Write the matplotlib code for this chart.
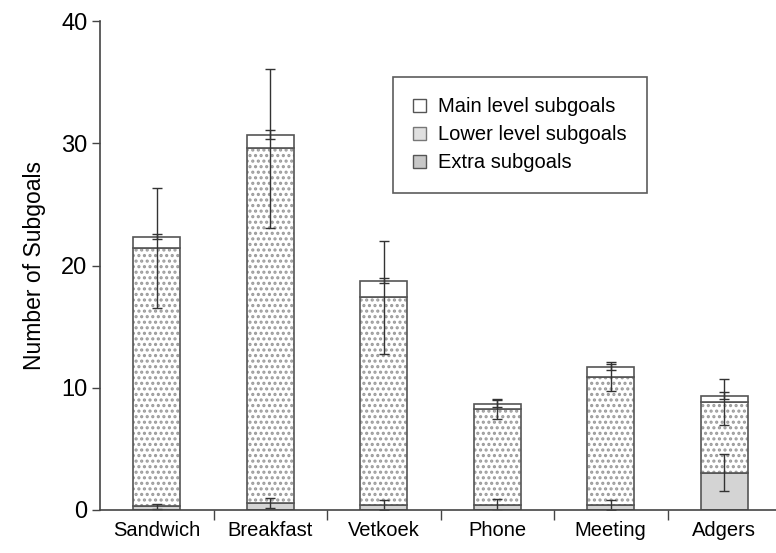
import matplotlib.pyplot as plt
import numpy as np
from matplotlib.patches import Patch

plt.rcParams['font.family'] = ['Liberation Sans', 'DejaVu Sans']
plt.rcParams['hatch.linewidth'] = 1.5

categories = ['Sandwich', 'Breakfast', 'Vetkoek', 'Phone', 'Meeting', 'Adgers']
extra = [0.3, 0.6, 0.4, 0.4, 0.4, 3.05]
lower = [21.1, 29.0, 17.0, 7.85, 10.5, 5.8]
main = [0.95, 1.1, 1.35, 0.45, 0.8, 0.5]
extra_err = [0.2, 0.4, 0.4, 0.5, 0.4, 1.5]
lower_err = [4.9, 6.5, 4.6, 0.8, 1.2, 1.9]
main_err = [0.2, 0.37, 0.2, 0.3, 0.25, 0.3]

edge = '#555555'
x = np.arange(len(categories))
w = 0.41

fig = plt.figure(figsize=(7.76, 5.53), dpi=100)
ax = fig.add_axes([100 / 776, 43 / 553, 676 / 776, 489 / 553])

extra = np.array(extra)
lower = np.array(lower)
main = np.array(main)
bottom_main = extra + lower

ax.bar(x, extra, w, color='#d4d4d4', edgecolor=edge, linewidth=1.2)
# dotted fill first, outline on top
ax.bar(x, lower, w, bottom=extra, color='white', edgecolor='#9a9a9a',
       hatch='...', linewidth=0)
ax.bar(x, lower, w, bottom=extra, fill=False, edgecolor=edge, linewidth=1.2)
ax.bar(x, main, w, bottom=bottom_main, color='white', edgecolor=edge, linewidth=1.2)

ekw = dict(fmt='none', ecolor='#333333', elinewidth=1, capsize=3.5, capthick=1)
ax.errorbar(x, extra, yerr=extra_err, **ekw)
ax.errorbar(x, bottom_main, yerr=lower_err, **ekw)
ax.errorbar(x, bottom_main + main, yerr=main_err, **ekw)

handles = [
    Patch(facecolor='white', edgecolor=edge, linewidth=1),
    Patch(facecolor='#e0e0e0', edgecolor='#777777', linewidth=1),
    Patch(facecolor='#c8c8c8', edgecolor=edge, linewidth=1),
]
labels = ['Main level subgoals', 'Lower level subgoals', 'Extra subgoals']
leg = ax.legend(handles, labels, loc='upper left', bbox_to_anchor=(0.433, 0.885),
                fontsize=14.5, frameon=True, fancybox=False, handlelength=0.65,
                handleheight=0.65, handletextpad=0.6, labelspacing=0.45,
                borderpad=1.0, borderaxespad=0)
leg.get_frame().set_edgecolor('#333333')
leg.get_frame().set_linewidth(1.2)

ax.set_ylim(0, 40)
ax.set_yticks([0, 10, 20, 30, 40])
ax.set_xlim(-0.5, -0.5 + 676 / 113.5)
ax.set_xticks(x)
ax.set_xticklabels(categories, fontsize=14.5)
ax.set_xticks(x[:-1] + 0.5, minor=True)
ax.tick_params(axis='x', which='major', length=0, pad=8)
ax.tick_params(axis='x', which='minor', length=7, width=1, color='#444444')
ax.tick_params(axis='y', length=6, width=1, color='#444444', labelsize=17, pad=3)
ax.set_ylabel('Number of Subgoals', fontsize=16.5, labelpad=11)

for s in ['top', 'right']:
    ax.spines[s].set_visible(False)
for s in ['left', 'bottom']:
    ax.spines[s].set_color('#444444')
    ax.spines[s].set_linewidth(1.2)

fig.savefig('out.png', dpi=100)
